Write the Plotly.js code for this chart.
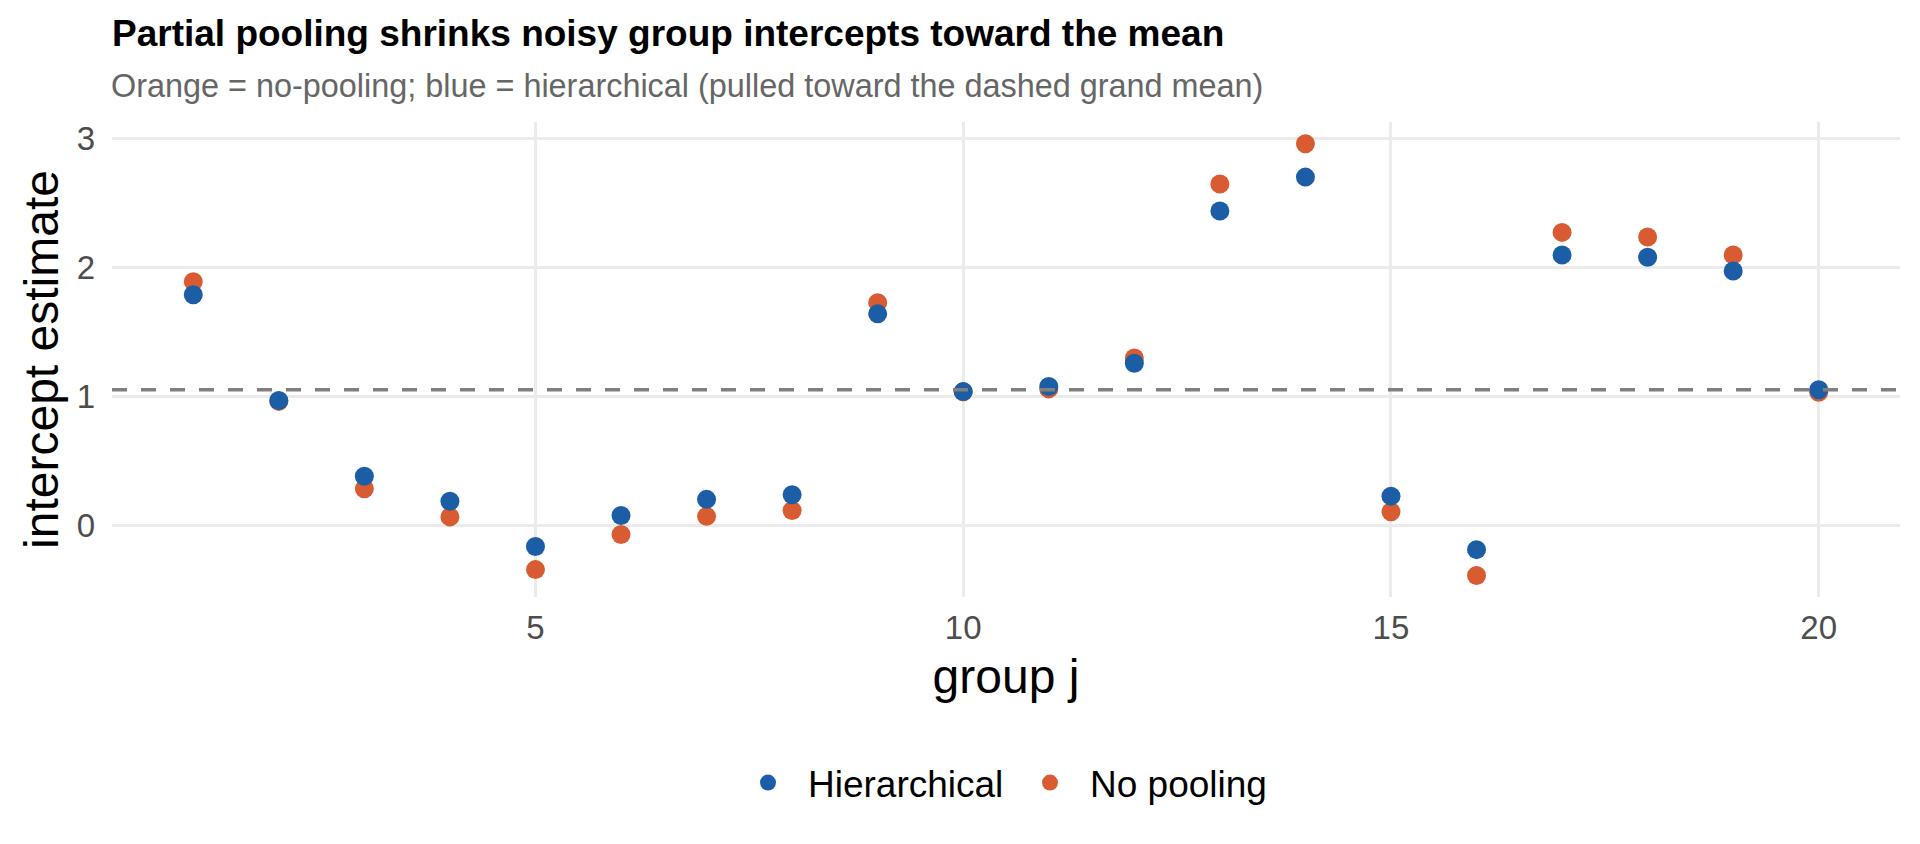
<!DOCTYPE html>
<html>
<head>
<meta charset="utf-8">
<script src="https://cdn.plot.ly/plotly-3.0.1.min.js"></script>
<style>
  html, body { margin: 0; padding: 0; background: #fff; }
  #chart { width: 1920px; height: 844px; }
</style>
</head>
<body>
<div id="chart"></div>
<script>
// values
let groups = [1, 2, 3, 4, 5, 6, 7, 8, 9, 10, 11, 12, 13, 14, 15, 16, 17, 18, 19, 20];
let hierarchical = [1.787, 0.967, 0.38, 0.186, -0.165, 0.075, 0.2, 0.236, 1.639, 1.036,
                    1.075, 1.256, 2.437, 2.70, 0.225, -0.19, 2.096, 2.078, 1.972, 1.05];
let noPooling = [1.889, 0.96, 0.282, 0.064, -0.345, -0.072, 0.068, 0.114, 1.726, 1.035,
                 1.057, 1.297, 2.646, 2.959, 0.104, -0.39, 2.271, 2.236, 2.096, 1.031];
let grandMean = 1.05;

let xTicks = [5, 10, 15, 20];
let yTicks = [0, 1, 2, 3];

let blue = "#1b5ea6";
let orange = "#d95b32";
let font = "Liberation Sans, Arial, sans-serif";

let noPoolTrace = {
    x: groups,
    y: noPooling,
    type: "scatter",
    mode: "markers",
    name: "No pooling",
    legendrank: 2,
    marker: {color: orange, size: 19, line: {width: 0}}
};

let hierTrace = {
    x: groups,
    y: hierarchical,
    type: "scatter",
    mode: "markers",
    name: "Hierarchical",
    legendrank: 1,
    marker: {color: blue, size: 19, line: {width: 0}}
};

let layout = {
    width: 1920,
    height: 844,
    margin: {l: 112, r: 20, t: 122, b: 247},
    paper_bgcolor: "#fff",
    plot_bgcolor: "#fff",
    font: {family: font, color: "#000"},
    showlegend: true,
    title: {
        text: "<b>Partial pooling shrinks noisy group intercepts toward the mean</b>",
        font: {family: font, size: 37, color: "#000"},
        x: 112 / 1920,
        xanchor: "left",
        xref: "container",
        y: 1 - 33 / 844,
        yanchor: "middle",
        yref: "container"
    },
    annotations: [{
        text: "Orange = no-pooling; blue = hierarchical (pulled toward the dashed grand mean)",
        xref: "paper",
        yref: "paper",
        x: 0,
        xanchor: "left",
        xshift: -3,
        y: 1 + (122 - 86) / 475,
        yanchor: "middle",
        showarrow: false,
        font: {family: font, size: 32.4, color: "#666666"}
    }],
    xaxis: {
        range: [0.05, 20.95],
        tickvals: xTicks,
        ticktext: xTicks.map(String),
        ticks: "",
        showline: false,
        zeroline: false,
        showgrid: true,
        gridcolor: "#ebebeb",
        gridwidth: 3,
        tickfont: {family: font, size: 33, color: "#4d4d4d"},
        ticklabelstandoff: 8,
        title: {text: "group j", font: {family: font, size: 48, color: "#000"}, standoff: 14},
        automargin: false
    },
    yaxis: {
        range: [-0.5575, 3.1275],
        tickvals: yTicks,
        ticktext: yTicks.map(String),
        ticks: "",
        showline: false,
        zeroline: false,
        showgrid: true,
        gridcolor: "#ebebeb",
        gridwidth: 3,
        tickfont: {family: font, size: 33, color: "#4d4d4d"},
        ticklabelstandoff: 16,
        title: {text: "intercept estimate", font: {family: font, size: 48, color: "#000"}, standoff: 2},
        automargin: false
    },
    shapes: [{
        type: "line",
        xref: "paper",
        yref: "y",
        x0: 0,
        x1: 1,
        y0: grandMean,
        y1: grandMean,
        line: {color: "#808080", width: 3.5, dash: "15px,14px"},
        layer: "above"
    }],
    legend: {
        orientation: "h",
        xref: "container",
        x: 728 / 1920,
        xanchor: "left",
        yref: "container",
        y: 1 - 783 / 844,
        yanchor: "middle",
        itemwidth: 70,
        entrywidth: 197,
        font: {family: font, size: 37, color: "#000"},
        bgcolor: "rgba(0,0,0,0)"
    }
};

Plotly.newPlot("chart", [noPoolTrace, hierTrace], layout, {displayModeBar: false, staticPlot: true});
</script>
</body>
</html>
